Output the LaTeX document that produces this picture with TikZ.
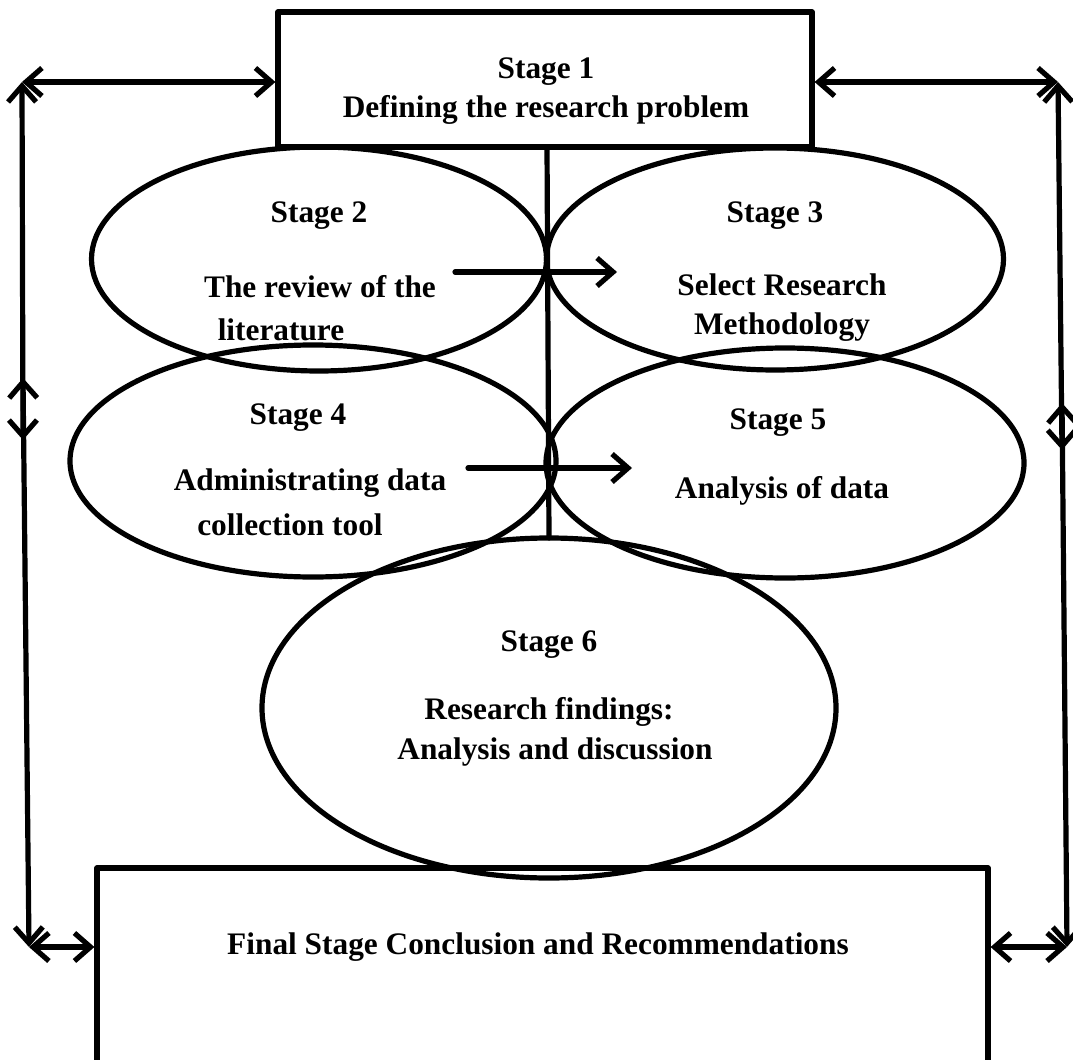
\documentclass[tikz,border=0pt]{standalone}
\usepackage{fontspec}
\setmainfont{Liberation Serif}
\usetikzlibrary{arrows.meta,shapes.geometric}
\begin{document}
\begin{tikzpicture}[x=0.75pt,y=-0.75pt,
  ln/.style={line width=3.9pt,line cap=round,line join=round},
  biarrow/.style={ln,{Straight Barb[length=12pt,width=21pt,line width=3.9pt]}-{Straight Barb[length=12pt,width=21pt,line width=3.9pt]}},
  onearrow/.style={ln,-{Straight Barb[length=12pt,width=21pt,line width=3.9pt]}},
  stageshape/.style={ln,draw,ellipse},
  lbl/.style={font=\bfseries\fontsize{23.5}{27}\selectfont,align=center,inner sep=0pt},
  boxshape/.style={ln,draw,rectangle,inner sep=0pt}]
\useasboundingbox (0,0) rectangle (1073,1059);
% Stage 1 box
\node[boxshape,minimum width=534*0.75pt,minimum height=135*0.75pt] (s1) at (545,79.5) {};
\node[lbl] (s1a) at (546,72) {Stage 1};
\node[lbl] (s1b) at (546,110) {Defining the research problem};
% ellipses
\node[stageshape,minimum width=455*0.75pt,minimum height=224*0.75pt] (s2) at (319,259) {};
\node[stageshape,minimum width=457*0.75pt,minimum height=222*0.75pt] (s3) at (775,259) {};
\node[stageshape,minimum width=486*0.75pt,minimum height=232*0.75pt] (s4) at (313,461) {};
\node[stageshape,minimum width=478*0.75pt,minimum height=230*0.75pt] (s5) at (785,463) {};
\node[stageshape,minimum width=574*0.75pt,minimum height=340*0.75pt] (s6) at (549,708) {};
% final box
\node[boxshape,minimum width=891*0.75pt,minimum height=200*0.75pt] (fin) at (542.5,968) {};
% texts
\node[lbl] (t2a) at (319,216) {Stage 2};
\node[lbl] (t2b) at (320,287) {The review of the};
\node[lbl] (t2c) at (281,330) {literature};
\node[lbl] (t3a) at (775,216) {Stage 3};
\node[lbl] (t3b) at (782,285) {Select Research};
\node[lbl] (t3c) at (782,327) {Methodology};
\node[lbl] (t4a) at (298,418) {Stage 4};
\node[lbl] (t4b) at (310,483) {Administrating data};
\node[lbl] (t4c) at (290,525) {collection tool};
\node[lbl] (t5a) at (778,423) {Stage 5};
\node[lbl] (t5b) at (782,491) {Analysis of data};
\node[lbl] (t6a) at (549,645) {Stage 6};
\node[lbl] (t6b) at (549,712) {Research findings:};
\node[lbl] (t6c) at (555,752) {Analysis and discussion};
\node[lbl] (tf) at (538,947) {Final Stage Conclusion and Recommendations};
% coordinates for frame
\coordinate (lt) at (22,82);
\coordinate (rt) at (1058,82);
\coordinate (lm1) at (23,440);
\coordinate (lm2) at (23,378);
\coordinate (rm1) at (1062,450);
\coordinate (rm2) at (1062,403);
\coordinate (lb) at (29,947);
\coordinate (rb) at (1067,947);
\coordinate (c1) at (547,147);
\coordinate (c2) at (549,538);
\coordinate (a2) at (455,272);
\coordinate (a3) at (617,272);
\coordinate (a4) at (468,468);
\coordinate (a5) at (632,468);
% connectors
\draw[ln] (c1) -- (c2);
\draw[onearrow] (a2) -- (a3);
\draw[onearrow] (a4) -- (a5);
\draw[biarrow] (lt) -- (s1.west |- lt);
\draw[biarrow] (s1.east |- rt) -- (rt);
\draw[biarrow] (lt) -- (lm1);
\draw[biarrow] (lm2) -- (lb);
\draw[biarrow] (rt) -- (rm1);
\draw[biarrow] (rm2) -- (rb);
\draw[biarrow] (lb) -- (fin.west |- lb);
\draw[biarrow] (fin.east |- rb) -- (rb);
\end{tikzpicture}
\end{document}
